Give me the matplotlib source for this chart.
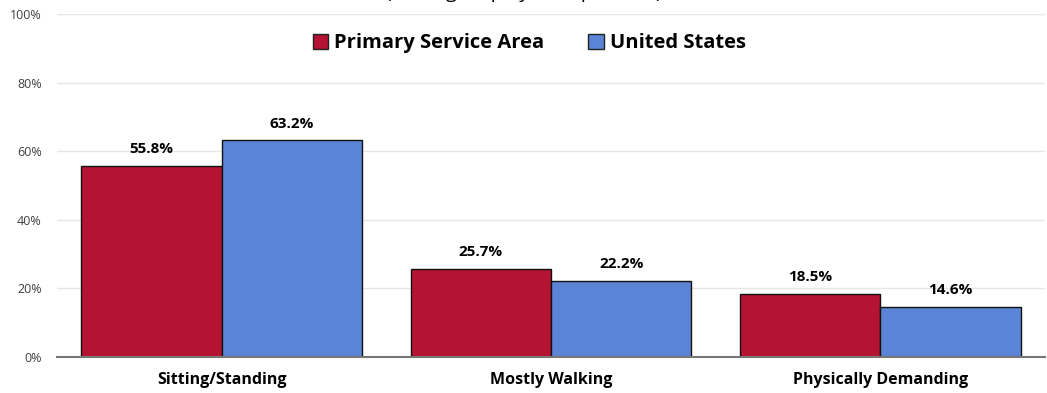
import numpy as np
import matplotlib
matplotlib.use('Agg')
from matplotlib import pyplot as plt

plt.rcParams['font.family'] = ['Open Sans', 'DejaVu Sans']

categories = ['Sitting/Standing', 'Mostly Walking', 'Physically Demanding']
psa = [55.8, 25.7, 18.5]
us = [63.2, 22.2, 14.6]
series_names = ['Primary Service Area', 'United States']
colors = ['#B41432', '#5B84D6']

fig = plt.figure(figsize=(10.47, 3.93), dpi=100)
ax = fig.add_axes((57/1047, 1 - 357/393, 988/1047, 343/393))

x = np.arange(len(categories))
w = 0.4265
bars1 = ax.bar(x - w/2, psa, w, color=colors[0], edgecolor='#111111', linewidth=1, label=series_names[0], zorder=3)
bars2 = ax.bar(x + w/2, us, w, color=colors[1], edgecolor='#111111', linewidth=1, label=series_names[1], zorder=3)

for bars, vals in ((bars1, psa), (bars2, us)):
    for b, v in zip(bars, vals):
        ax.annotate(f'{v:.1f}%', (b.get_x() + b.get_width()/2, v), xytext=(0, 7),
                    textcoords='offset points', ha='center', va='bottom',
                    fontsize=11, fontweight='bold')

ax.set_xlim(-0.5, 2.5)
ax.set_ylim(0, 100)
ax.set_yticks(range(0, 101, 20))
ax.set_yticklabels([f'{t}%' for t in range(0, 101, 20)], fontsize=9, color='#404040')
ax.set_xticks(x)
ax.set_xticklabels(categories, fontsize=11.5, fontweight='bold')
ax.tick_params(axis='both', length=0)
ax.tick_params(axis='x', pad=11)
ax.tick_params(axis='y', pad=11)
ax.grid(axis='y', color='#E6E6E6', linewidth=1, zorder=0)
for s in ['top', 'right', 'left']:
    ax.spines[s].set_visible(False)
ax.spines['bottom'].set_color('#777777')
ax.spines['bottom'].set_linewidth(1.5)
ax.spines['bottom'].set_zorder(4)

leg = ax.legend(loc='center', bbox_to_anchor=(0.478, 0.915), ncol=2, frameon=False,
                prop={'size': 14.5, 'weight': 'bold'}, handlelength=0.75, handleheight=0.75,
                handletextpad=0.3, columnspacing=2.2)
for h in leg.legend_handles:
    h.set_edgecolor('#222222')

fig.text(0.5, 1 + 1.5/393, '(Among Employed Population)', ha='center', va='baseline', fontsize=14)

fig.savefig('out.png', dpi=100)
